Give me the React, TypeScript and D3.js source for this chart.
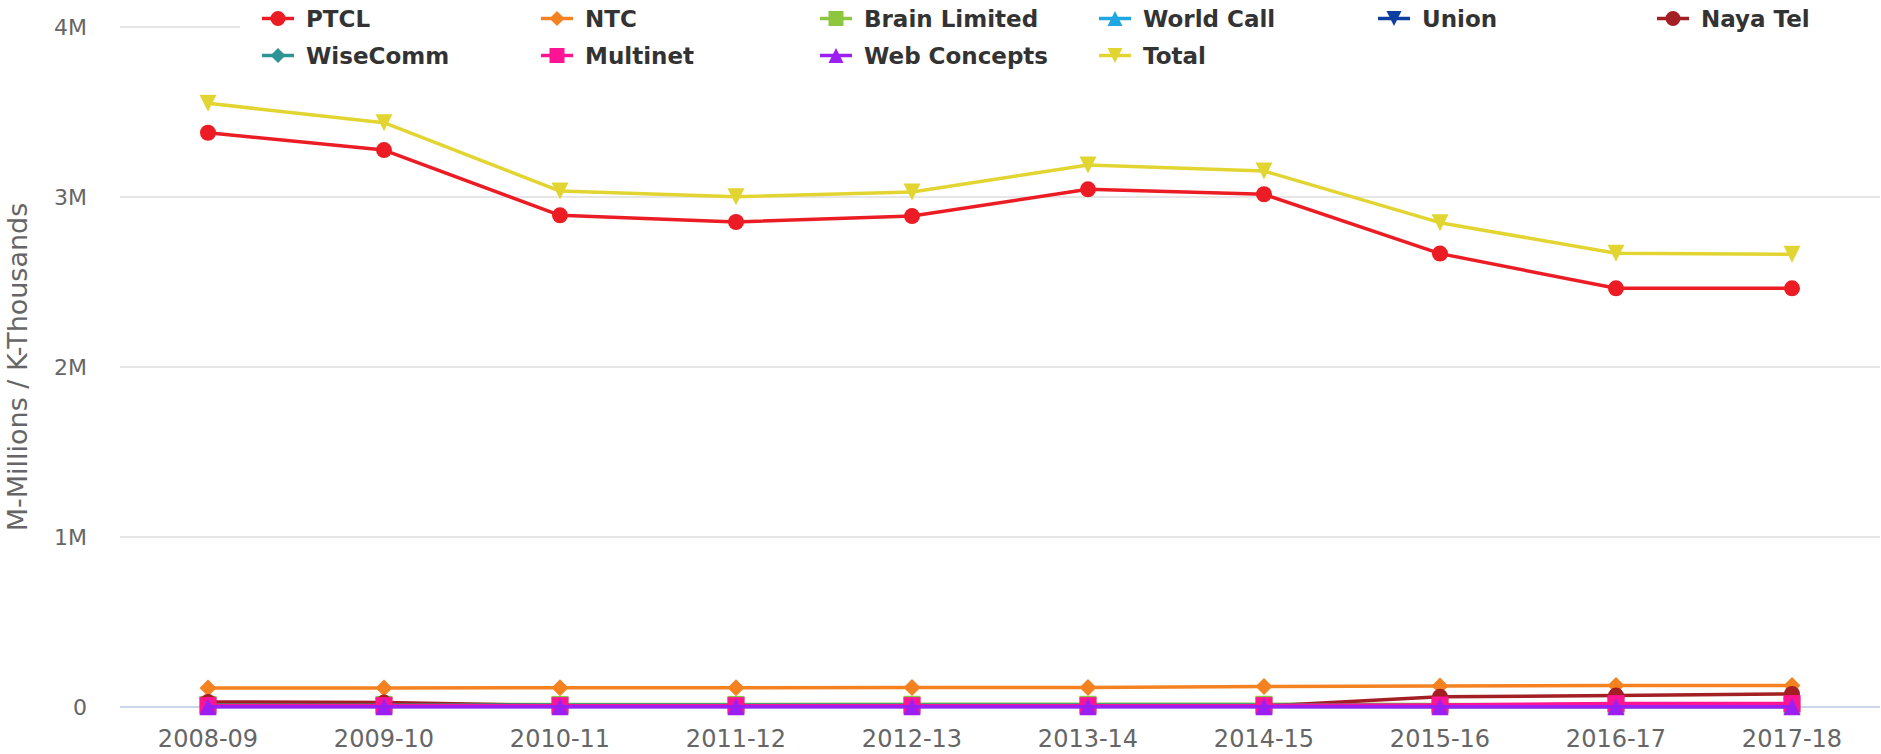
import React, { useRef, useEffect } from "react";
import * as d3 from "d3";

// fiscal years on the x axis
const years = [
  "2008-09", "2009-10", "2010-11", "2011-12", "2012-13",
  "2013-14", "2014-15", "2015-16", "2016-17", "2017-18",
];

// subscribers (millions)
const ptcl = [3.378, 3.276, 2.892, 2.853, 2.888, 3.045, 3.016, 2.667, 2.463, 2.463];
const ntc = [0.112, 0.112, 0.113, 0.113, 0.114, 0.115, 0.12, 0.124, 0.127, 0.127];
const brainLimited = [0.015, 0.015, 0.015, 0.015, 0.016, 0.016, 0.016, 0.014, 0.012, 0.012];
const worldCall = [0.006, 0.006, 0.005, 0.005, 0.005, 0.005, 0.005, 0.004, 0.004, 0.004];
const union = [0.003, 0.003, 0.003, 0.003, 0.003, 0.003, 0.003, 0.002, 0.002, 0.002];
const nayaTel = [0.03, 0.026, 0.008, 0.006, 0.006, 0.006, 0.006, 0.06, 0.067, 0.077];
const wiseComm = [0.01, 0.01, 0.012, 0.012, 0.012, 0.012, 0.012, 0.01, 0.008, 0.008];
const multinet = [0.008, 0.008, 0.008, 0.008, 0.008, 0.008, 0.008, 0.012, 0.02, 0.02];
const webConcepts = [0.002, 0.002, 0.002, 0.002, 0.002, 0.002, 0.002, 0.002, 0.002, 0.002];
const total = [3.551, 3.437, 3.035, 3.002, 3.03, 3.188, 3.153, 2.849, 2.669, 2.663];

const yTicks = [0, 1e6, 2e6, 3e6, 4e6];
const yTickLabels = ["0", "1M", "2M", "3M", "4M"];

type Shape = "circle" | "diamond" | "square" | "triangle" | "triangle-down";

const series: { name: string; color: string; shape: Shape; values: number[] }[] = [
  { name: "PTCL", color: "#ec1c24", shape: "circle", values: ptcl },
  { name: "NTC", color: "#f58220", shape: "diamond", values: ntc },
  { name: "Brain Limited", color: "#8dc63f", shape: "square", values: brainLimited },
  { name: "World Call", color: "#1ea7e1", shape: "triangle", values: worldCall },
  { name: "Union", color: "#0d3f9f", shape: "triangle-down", values: union },
  { name: "Naya Tel", color: "#a31f24", shape: "circle", values: nayaTel },
  { name: "WiseComm", color: "#2e9494", shape: "diamond", values: wiseComm },
  { name: "Multinet", color: "#ff1493", shape: "square", values: multinet },
  { name: "Web Concepts", color: "#9b1ff2", shape: "triangle", values: webConcepts },
  { name: "Total", color: "#e2d532", shape: "triangle-down", values: total },
];

const markerPath = (shape: Shape, x: number, y: number, r: number) => {
  switch (shape) {
    case "circle":
      return `M${x - r},${y}a${r},${r} 0 1,0 ${2 * r},0a${r},${r} 0 1,0 ${-2 * r},0Z`;
    case "diamond":
      return `M${x},${y - r}L${x + r},${y}L${x},${y + r}L${x - r},${y}Z`;
    case "square":
      return `M${x - r},${y - r}h${2 * r}v${2 * r}h${-2 * r}Z`;
    case "triangle":
      return `M${x},${y - r}L${x + r},${y + r}L${x - r},${y + r}Z`;
    default:
      return `M${x - r},${y - r}L${x + r},${y - r}L${x},${y + r}Z`;
  }
};

const App: React.FC = () => {
  const ref = useRef<SVGSVGElement | null>(null);

  useEffect(() => {
    const svg = d3.select(ref.current);
    svg.selectAll("*").remove();

    const W = 1881;
    const H = 754;
    const margin = { top: 27, right: 1, bottom: 47, left: 120 };
    const width = W - margin.left - margin.right;
    const height = 707 - margin.top;

    const x = d3.scaleBand().domain(years).range([0, width]);
    const y = d3.scaleLinear().domain([0, 4e6]).range([height, 0]);
    const cx = (d: string) => (x(d) as number) + x.bandwidth() / 2;

    const font = "'DejaVu Sans', Verdana, sans-serif";

    svg.attr("width", W).attr("height", H).style("font-family", font);

    const g = svg
      .append("g")
      .attr("transform", `translate(${margin.left},${margin.top})`);

    // grid lines
    g.append("g")
      .selectAll("line")
      .data(yTicks.slice(1))
      .join("line")
      .attr("x1", 0)
      .attr("x2", width)
      .attr("y1", (d) => y(d))
      .attr("y2", (d) => y(d))
      .attr("stroke", "#e6e6e6")
      .attr("stroke-width", 2);

    // x axis line
    g.append("line")
      .attr("x1", 0)
      .attr("x2", width)
      .attr("y1", y(0))
      .attr("y2", y(0))
      .attr("stroke", "#ccd6eb")
      .attr("stroke-width", 2);

    // y tick labels
    g.append("g")
      .selectAll("text")
      .data(yTicks)
      .join("text")
      .attr("x", -33)
      .attr("y", (d) => y(d))
      .attr("dy", "0.36em")
      .attr("text-anchor", "end")
      .attr("fill", "#666")
      .style("font-size", "22px")
      .text((d, i) => yTickLabels[i]);

    // x tick labels
    g.append("g")
      .selectAll("text")
      .data(years)
      .join("text")
      .attr("x", (d) => cx(d))
      .attr("y", height + 40)
      .attr("text-anchor", "middle")
      .attr("fill", "#666")
      .style("font-size", "24px")
      .text((d) => d);

    // y axis title
    svg
      .append("text")
      .attr("transform", `translate(27,${margin.top + height / 2}) rotate(-90)`)
      .attr("text-anchor", "middle")
      .attr("fill", "#666")
      .style("font-size", "27px")
      .text("M-Millions / K-Thousands");

    const line = d3
      .line<number>()
      .x((d, i) => cx(years[i]))
      .y((d) => y(d * 1e6));

    series.forEach((s) => {
      const sg = g.append("g");
      sg.append("path")
        .datum(s.values)
        .attr("fill", "none")
        .attr("stroke", s.color)
        .attr("stroke-width", 3.5)
        .attr("stroke-linejoin", "round")
        .attr("d", line);
      sg.selectAll("path.marker")
        .data(s.values)
        .join("path")
        .attr("class", "marker")
        .attr("fill", s.color)
        .attr("d", (d, i) =>
          markerPath(s.shape, cx(years[i]), y(d * 1e6), s.shape === "circle" ? 8 : 8.5)
        );
    });

    // legend, six fixed-width columns
    const legend = svg.append("g");
    legend
      .append("rect")
      .attr("x", 240)
      .attr("y", 0)
      .attr("width", W - 240)
      .attr("height", 76)
      .attr("fill", "#fff");

    const itemWidth = 279;
    series.forEach((s, i) => {
      const tx = 306 + (i % 6) * itemWidth;
      const ix = tx - 28;
      const iy = 18.5 + Math.floor(i / 6) * 37;
      legend
        .append("line")
        .attr("x1", ix - 16)
        .attr("x2", ix + 16)
        .attr("y1", iy)
        .attr("y2", iy)
        .attr("stroke", s.color)
        .attr("stroke-width", 3.5);
      legend
        .append("path")
        .attr("fill", s.color)
        .attr("d", markerPath(s.shape, ix, iy, 7.5));
      legend
        .append("text")
        .attr("x", tx)
        .attr("y", iy)
        .attr("dy", "0.36em")
        .attr("fill", "#333")
        .style("font-size", "23px")
        .style("font-weight", "bold")
        .text(s.name);
    });
  }, []);

  return (
    <svg
      ref={ref}
      style={{ position: "absolute", left: 0, top: 0, background: "#fff" }}
    />
  );
};

export default App;
